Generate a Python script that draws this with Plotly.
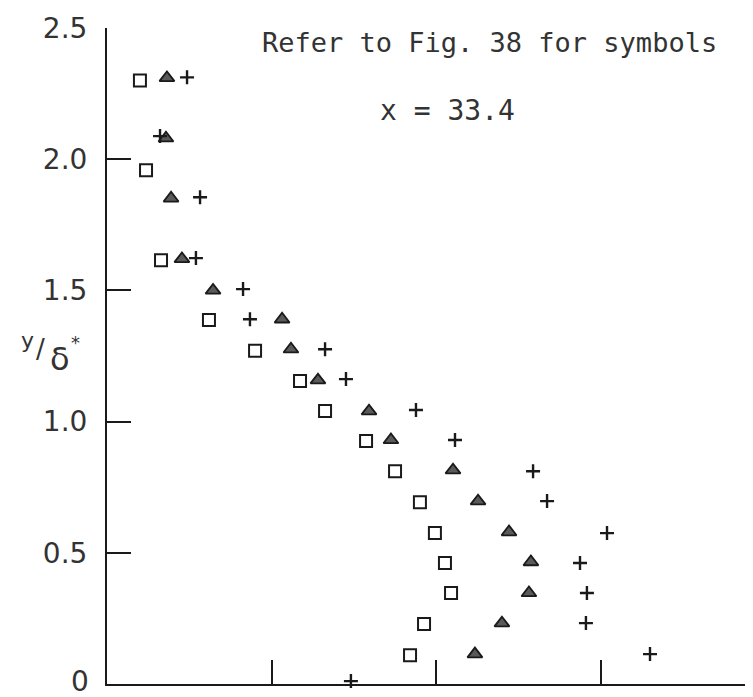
import plotly.graph_objects as go

# ---- data (x in tick units of the unlabeled x-axis, y = y/delta*) ----
square_x = [0.200, 0.237, 0.328, 0.619, 0.899, 1.172, 1.324, 1.573, 1.749, 1.900, 1.991, 2.052, 2.089, 1.925, 1.840]
square_y = [2.300, 1.958, 1.615, 1.387, 1.270, 1.155, 1.040, 0.926, 0.811, 0.693, 0.575, 0.461, 0.347, 0.229, 0.110]

tri_x = [0.364, 0.358, 0.389, 0.455, 0.644, 1.063, 1.117, 1.281, 1.591, 1.724, 2.101, 2.253, 2.441, 2.574, 2.562, 2.398, 2.234]
tri_y = [2.310, 2.080, 1.851, 1.620, 1.500, 1.390, 1.276, 1.158, 1.040, 0.930, 0.815, 0.697, 0.579, 0.465, 0.347, 0.232, 0.114]

plus_x = [0.486, 0.322, 0.565, 0.540, 0.826, 0.868, 1.324, 1.451, 1.876, 2.113, 2.587, 2.672, 3.036, 2.872, 2.914, 2.908, 3.297, 1.481]
plus_y = [2.312, 2.088, 1.855, 1.623, 1.505, 1.390, 1.276, 1.162, 1.044, 0.930, 0.811, 0.697, 0.575, 0.461, 0.347, 0.232, 0.114, 0.011]

y_tickvals = [0.5, 1.0, 1.5, 2.0, 2.5]
y_ticktext = ["0.5", "1.0", "1.5", "2.0", "2.5"]
origin_label = "0"
x_tickvals = [1, 2, 3]

note_text = "Refer to Fig. 38 for symbols"
station_text = "x = 33.4"

ink = "#1a1a1a"
text_ink = "#333333"

fig = go.Figure()
fig.add_trace(go.Scatter(
    x=square_x, y=square_y, mode="markers", cliponaxis=False,
    marker=dict(symbol="square-open", size=12, color=ink, line=dict(width=2, color=ink)),
    showlegend=False))
fig.add_trace(go.Scatter(
    x=tri_x, y=tri_y, mode="markers", cliponaxis=False,
    marker=dict(symbol="triangle-up", size=13, color="#5a5a5a", line=dict(width=1.8, color=ink)),
    showlegend=False))
fig.add_trace(go.Scatter(
    x=plus_x, y=plus_y, mode="markers", cliponaxis=False,
    marker=dict(symbol="cross-thin", size=10, color=ink, line=dict(width=2.4, color=ink)),
    showlegend=False))

fig.update_layout(
    width=753, height=697,
    margin=dict(l=99, r=0, t=20, b=21),
    paper_bgcolor="white", plot_bgcolor="white",
    font=dict(family="DejaVu Sans", color=ink),
    xaxis=dict(range=[0, 3.971], showgrid=False, zeroline=False,
               showline=True, linecolor=ink, linewidth=2,
               tickmode="array", tickvals=x_tickvals, showticklabels=False,
               ticks="inside", ticklen=24, tickwidth=2, tickcolor=ink),
    yaxis=dict(range=[0, 2.5], showgrid=False, zeroline=False,
               showline=True, linecolor=ink, linewidth=2,
               tickmode="array", tickvals=y_tickvals, ticktext=y_ticktext,
               ticks="inside", ticklen=24, tickwidth=2, tickcolor=ink,
               tickfont=dict(size=28, family="DejaVu Sans", color=text_ink),
               ticklabelstandoff=12),
)

# origin label "0" (paper coords so it is not hidden; nudged up to stay inside the page)
fig.add_annotation(x=-0.026, y=0.004, xref="paper", yref="paper", text=origin_label, showarrow=False,
                   xanchor="right", yanchor="middle", borderpad=0,
                   font=dict(family="DejaVu Sans", size=28, color=text_ink))

fig.add_annotation(x=2.32, y=2.443, xref="x", yref="y", text=note_text, showarrow=False,
                   xanchor="center", yanchor="middle",
                   font=dict(family="DejaVu Sans Mono", size=27, color=text_ink))
fig.add_annotation(x=2.07, y=2.187, xref="x", yref="y", text=station_text, showarrow=False,
                   xanchor="center", yanchor="middle",
                   font=dict(family="DejaVu Sans Mono", size=28, color=text_ink))

# y-axis title y/δ*  (pieces laid out side by side)
ytitle_parts = [
    ("y", 19, 1.310, 22),
    ("/", 32, 1.275, 26),
    ("δ", 52, 1.240, 32),
    ("*", 67, 1.300, 18),
]
for txt, px, yv, fs in ytitle_parts:
    fig.add_annotation(x=(px - 99) / 654, y=yv, xref="paper", yref="y", text=txt, showarrow=False,
                       xanchor="center", yanchor="middle", borderpad=0,
                       font=dict(family="DejaVu Sans", size=fs, color=text_ink))

fig.write_html("out.html")
